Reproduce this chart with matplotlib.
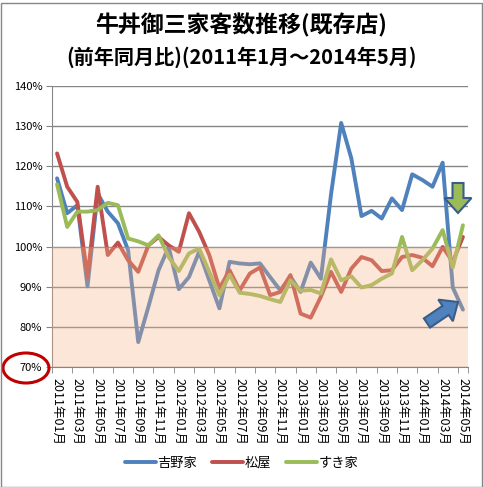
#!/usr/bin/env python3
import matplotlib
matplotlib.use('Agg')
import matplotlib.pyplot as plt
from matplotlib.patches import Ellipse, FancyArrow, Rectangle
from matplotlib.transforms import IdentityTransform
from matplotlib.ticker import FixedLocator, FuncFormatter

# monthly customer counts vs same month of previous year (%), Jan 2011 - May 2014
months = [f'{y}年{m:02d}月' for y in range(2011, 2015) for m in range(1, 13)][:41]

yoshinoya = [117.0, 108.3, 110.3, 90.1, 113.2, 108.7, 105.8, 99.1, 76.2, 85.0,
             94.1, 99.9, 89.4, 92.4, 98.7, 91.6, 84.6, 96.2, 95.8, 95.6,
             95.8, 92.4, 89.1, 92.5, 88.7, 96.0, 92.0, 113.0, 130.8, 122.0,
             107.6, 108.9, 107.0, 112.0, 109.1, 118.0, 116.6, 114.9, 120.9, 89.8,
             84.3]
matsuya = [123.2, 114.9, 111.1, 92.4, 114.9, 97.9, 101.0, 96.6, 93.7, 100.3,
           102.4, 100.3, 98.7, 108.3, 103.7, 97.9, 89.6, 94.1, 89.1, 93.3,
           94.8, 87.9, 88.7, 92.9, 83.3, 82.3, 87.5, 93.7, 88.7, 94.5,
           97.4, 96.6, 93.9, 94.1, 97.4, 97.9, 97.2, 95.1, 99.9, 96.2,
           102.4]
sukiya = [115.5, 104.9, 108.7, 108.7, 109.1, 110.9, 110.3, 102.0, 101.3, 100.3,
          102.8, 97.4, 93.9, 98.3, 99.5, 93.7, 87.9, 93.0, 88.5, 88.2,
          87.7, 86.9, 86.2, 91.6, 89.0, 89.2, 88.3, 96.8, 91.6, 92.6,
          89.8, 90.4, 92.0, 93.3, 102.4, 94.1, 96.6, 99.5, 104.1, 94.8,
          105.3]
series_names = ['吉野家', '松屋', 'すき家']
colors = ['#4F81BD', '#C0504D', '#9BBB59']

plt.rcParams['font.family'] = ['Noto Sans CJK JP', 'DejaVu Sans']

W, H = 483, 487
fig = plt.figure(figsize=(W / 100, H / 100), dpi=100)
ax = fig.add_axes([52 / W, 1 - 367 / H, 416 / W, (367 - 86) / H])

xs = list(range(len(months)))
for data, name, c in zip([yoshinoya, matsuya, sukiya], series_names, colors):
    ax.plot(xs, data, color=c, lw=2.8, label=name, zorder=2,
            solid_joinstyle='round', solid_capstyle='round')

# shaded band below 100%, drawn over the lines like the original overlay
ax.axhspan(70, 100, color='#F6B284', alpha=0.32, lw=0, zorder=3)

ax.set_xlim(-0.5, len(months) - 0.5)
ax.set_ylim(70, 140)
ax.set_yticks(range(70, 141, 10))
ax.yaxis.set_major_formatter(FuncFormatter(lambda v, p: f'{v:.0f}%'))
ax.grid(axis='y', color='#868686', lw=1, zorder=1)
ax.tick_params(axis='y', length=4, color='#868686', labelsize=8, pad=3)

ax.xaxis.set_major_locator(FixedLocator(xs[::2]))
ax.set_xticklabels(months[::2], rotation=270, fontsize=9, va='top', ha='center')
ax.xaxis.set_minor_locator(FixedLocator([i - 0.5 for i in xs[::2]] + [len(months) - 0.5]))
ax.tick_params(axis='x', which='major', length=0, pad=8)
ax.tick_params(axis='x', which='minor', length=4, color='#868686')

for s in ['top', 'right']:
    ax.spines[s].set_visible(False)
for s in ['left', 'bottom']:
    ax.spines[s].set_color('#868686')

fig.text(0.5, 1 - 25 / H, '牛丼御三家客数推移(既存店)', ha='center', va='center',
         fontsize=16.5, fontweight='bold')
fig.text(0.5, 1 - 57 / H, '(前年同月比)(2011年1月～2014年5月)', ha='center', va='center',
         fontsize=14.5, fontweight='bold')

fig.legend(loc='center', bbox_to_anchor=(0.5, 1 - 463 / H), ncol=3, frameon=False,
           fontsize=9.5, handlelength=2.4, handletextpad=0.1, columnspacing=1.1)

# annotation shapes (pixel coordinates, origin bottom-left)
px = IdentityTransform()
fig.add_artist(Ellipse((26, H - 368), 46, 30, fill=False, edgecolor='#C00000',
                       lw=2.2, transform=px))
fig.add_artist(FancyArrow(458, H - 183, 0, -30, width=11, head_width=27, head_length=15,
                          length_includes_head=True, facecolor='#9BBB59',
                          edgecolor='#385D8A', lw=1.5, transform=px))
fig.add_artist(FancyArrow(427, H - 323, 31, 21, width=11, head_width=26, head_length=15,
                          length_includes_head=True, facecolor='#4F81BD',
                          edgecolor='#385D8A', lw=1.5, transform=px))
fig.add_artist(Rectangle((0.5, 0.5), W - 2, H - 3, fill=False, edgecolor='#868686',
                         lw=1, transform=px))

fig.savefig('out.png', dpi=100)
